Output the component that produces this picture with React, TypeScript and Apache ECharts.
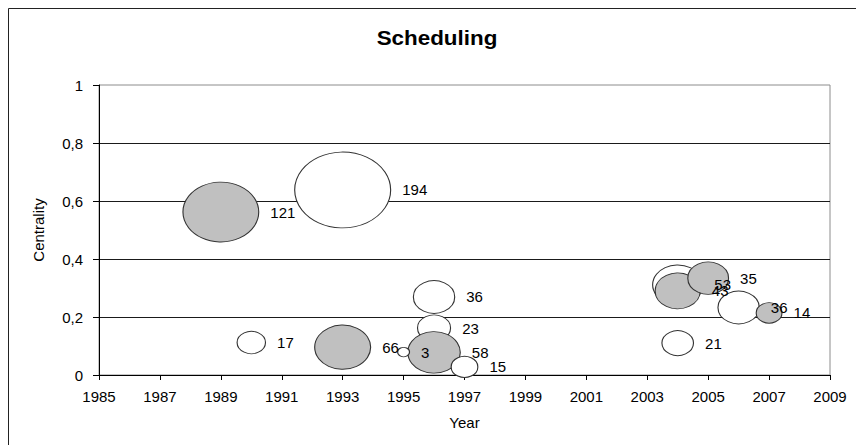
import React, { useEffect, useRef } from "react";
import * as echarts from "echarts";

// ---- data ----
const years: number[] = [1989, 1993, 1990, 1993, 1996, 1996, 1996, 1995, 1997, 2004, 2004, 2005, 2004, 2006, 2007];
const centrality: number[] = [0.562, 0.638, 0.112, 0.096, 0.269, 0.162, 0.078, 0.079, 0.028, 0.311, 0.29, 0.334, 0.11, 0.233, 0.214];
const papers: number[] = [121, 194, 17, 66, 36, 23, 58, 3, 15, 53, 43, 35, 21, 36, 14];
const filled: boolean[] = [true, false, false, true, false, false, true, false, false, false, true, true, false, false, true];

const xTicks = { min: 1985, max: 2009, interval: 2 };
const yTicks = { min: 0, max: 1, interval: 0.2 };

const TITLE = "Scheduling";
const X_NAME = "Year";
const Y_NAME = "Centrality";

const FONT = "'Liberation Sans', Arial, sans-serif";
const GRAY = "#c0c0c0";
const WHITE = "#ffffff";
const BUBBLE_K = 6.89; // px width per sqrt(size)
const BUBBLE_ASPECT = 0.79;

export default function App() {
  const ref = useRef<HTMLDivElement>(null);

  useEffect(() => {
    if (!ref.current) return;
    const chart = echarts.init(ref.current, null, { renderer: "svg" });

    const data = years.map((y, i) => ({
      value: [y, centrality[i], papers[i]],
      itemStyle: { color: filled[i] ? GRAY : WHITE },
    }));

    chart.setOption({
      animation: false,
      backgroundColor: "#ffffff",
      graphic: [
        {
          type: "rect",
          shape: { x: 8.5, y: 8.5, width: 1200, height: 1200 },
          style: { fill: "none", stroke: "#222", lineWidth: 1 },
          silent: true,
        },
        {
          type: "text",
          x: 437,
          y: 38,
          scaleX: 1.12,
          style: {
            text: TITLE,
            fontFamily: FONT,
            fontWeight: "bold",
            fontSize: 20,
            fill: "#000",
            align: "center",
            verticalAlign: "middle",
          },
        },
      ],
      grid: {
        left: 99,
        right: 26,
        top: 85,
        bottom: 70,
        show: true,
        borderColor: "#8c8c8c",
        borderWidth: 1,
        backgroundColor: "transparent",
      },
      xAxis: {
        type: "value",
        min: xTicks.min,
        max: xTicks.max,
        interval: xTicks.interval,
        name: X_NAME,
        nameLocation: "middle",
        nameGap: 40,
        nameTextStyle: { fontFamily: FONT, fontSize: 15, color: "#000" },
        axisLine: { show: true, onZero: false, lineStyle: { color: "#000", width: 1 } },
        axisTick: { show: true, inside: false, length: 5, lineStyle: { color: "#000" } },
        axisLabel: {
          margin: 14,
          fontFamily: FONT,
          fontSize: 15,
          color: "#000",
          formatter: (v: number) => String(v),
        },
        splitLine: { show: false },
      },
      yAxis: {
        type: "value",
        min: yTicks.min,
        max: yTicks.max,
        interval: yTicks.interval,
        name: Y_NAME,
        nameLocation: "middle",
        nameRotate: 90,
        nameGap: 53,
        nameTextStyle: { fontFamily: FONT, fontSize: 15, color: "#000" },
        axisLine: { show: true, lineStyle: { color: "#000", width: 1 } },
        axisTick: { show: true, inside: false, length: 6, lineStyle: { color: "#000" } },
        axisLabel: {
          margin: 16,
          fontFamily: FONT,
          fontSize: 15,
          color: "#000",
          formatter: (v: number) => String(Math.round(v * 10) / 10).replace(".", ","),
        },
        splitLine: {
          show: true,
          showMinLine: false,
          showMaxLine: false,
          lineStyle: { color: "#1a1a1a", width: 1 },
        },
      },
      series: [
        {
          type: "scatter",
          data,
          symbol: "circle",
          symbolSize: (val: number[]) => {
            const w = BUBBLE_K * Math.sqrt(val[2]);
            return [w, w * BUBBLE_ASPECT];
          },
          itemStyle: { borderColor: "#333", borderWidth: 1, opacity: 1 },
          label: {
            show: true,
            position: "right",
            distance: 11,
            formatter: (p: any) => String(p.value[2]),
            fontFamily: FONT,
            fontSize: 15,
            color: "#000",
          },
          emphasis: { disabled: true },
        },
      ],
    });

    return () => chart.dispose();
  }, []);

  return (
    <div
      ref={ref}
      style={{ position: "absolute", left: 0, top: 0, width: 856, height: 445 }}
    />
  );
}
